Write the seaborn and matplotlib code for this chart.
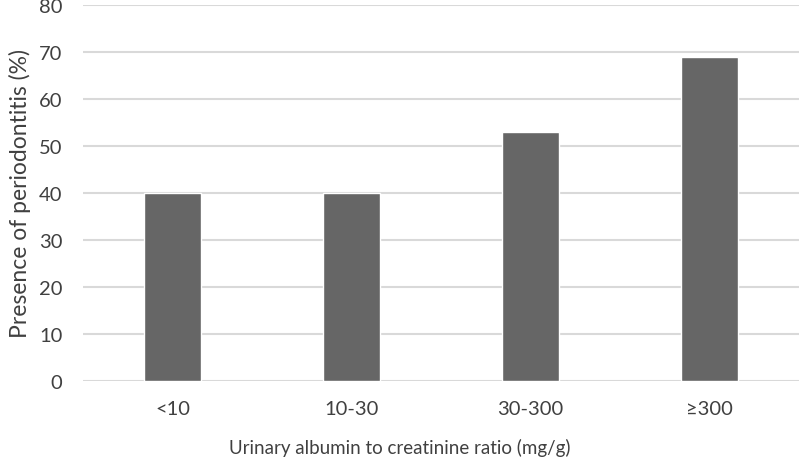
import matplotlib
matplotlib.use("Agg")
import matplotlib.pyplot as plt
import seaborn as sns
import pandas as pd

categories = ["<10", "10-30", "30-300", "≥300"]
values = [40, 40, 53, 69]
yticks = [0, 10, 20, 30, 40, 50, 60, 70, 80]

sns.set_theme(style="white")
plt.rcParams['font.family'] = ['Lato', 'DejaVu Sans']

df = pd.DataFrame({"cat": categories, "val": values})

fig = plt.figure(figsize=(8, 4.6), dpi=100)
ax = fig.add_axes([0.104, 0.170, 0.895, 0.817])
sns.barplot(data=df, x="cat", y="val", color="#666666", width=0.32,
            saturation=1, ax=ax, zorder=3)
ax.set_ylim(0, 80)
ax.set_yticks(yticks)
ax.set_xlim(-0.5, 3.5)
ax.grid(axis="y", color="#d9d9d9", linewidth=1.5, zorder=0)
ax.set_axisbelow(True)
for s in ax.spines.values():
    s.set_visible(False)
ax.tick_params(axis="both", length=0, labelsize=14.5, labelcolor="#404040")
ax.tick_params(axis="y", pad=15)
ax.tick_params(axis="x", pad=14)
ax.set_xlabel("Urinary albumin to creatinine ratio (mg/g)", fontsize=13.5,
              color="#404040")
ax.xaxis.set_label_coords(0.5, 0.045, transform=fig.transFigure)
ax.set_ylabel("Presence of periodontitis (%)", fontsize=16.5, color="#404040",
              labelpad=6)
fig.savefig("out.png", dpi=100)
